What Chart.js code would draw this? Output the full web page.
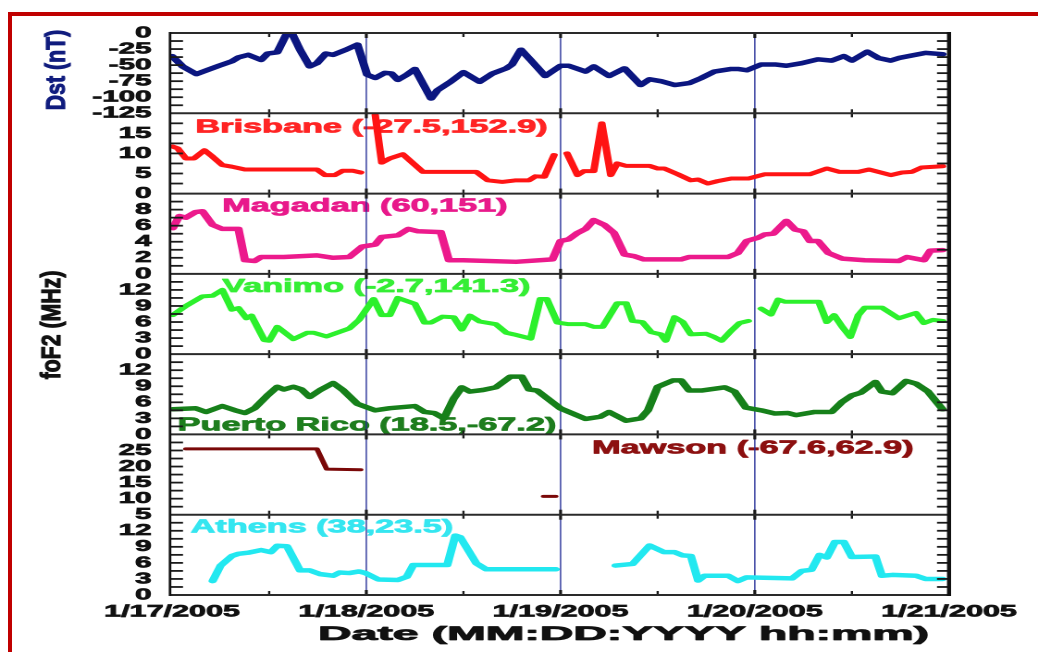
<!DOCTYPE html>
<html><head><meta charset="utf-8">
<script src="https://cdn.jsdelivr.net/npm/chart.js@4.4.1/dist/chart.umd.min.js"></script>
<style>
html,body{margin:0;padding:0;background:#fff;overflow:hidden;width:1038px;height:652px;}
#frame{position:absolute;left:8px;top:12px;width:2000px;height:2000px;border-top:4px solid #c00000;border-left:4px solid #c00000;}
#wrap{position:absolute;left:0;top:0;width:561px;height:652px;transform:scaleX(1.8503);transform-origin:0 0;}
</style></head><body>
<div id="frame"></div>
<div id="wrap"><canvas id="c"></canvas></div>
<script>
// ---- x axis (hours since 1/17/2005 00:00) ----
const tickHours = [0, 24, 48, 72, 96];
const tickLabels = ['1/17/2005', '1/18/2005', '1/19/2005', '1/20/2005', '1/21/2005'];

// ---- Dst (nT) ----
const dstHours = [0,1.3,3,4.5,5.8,7.4,8.2,9.4,11,11.8,13,14.2,14.8,15.8,17,17.9,19,19.9,21.5,22.9,24.1,25.1,26.3,27.1,27.9,29,30,32,32.8,34.4,36,38,39.6,41.3,42,43.1,44.3,46.1,48,49,51.1,52.1,54,55.9,57.9,59,60.4,62.1,63.9,65.4,67,69.1,69.9,71,72.8,74.5,75.9,77.8,79.8,81.5,83,84,85.9,87.3,88.8,89.8,91.4,93.1,95.2];
const dstValues = [-36,-52,-64,-57,-51,-44,-38,-34,-42,-32,-30,0,0,-26,-52,-47,-32,-34,-26,-18,-65,-70,-62,-63,-73,-65,-56,-102,-89,-76,-61,-76,-63,-55,-49,-26,-42,-67,-51,-51,-60,-52,-67,-55,-81,-72,-75,-81,-78,-70,-60,-56,-56,-58,-49,-49,-51,-47,-41,-43,-36,-43,-29,-39,-43,-39,-35,-31,-33];

// ---- foF2 (MHz) per station ----
const brisbaneHours = [0.1,0.7,1.7,2.7,4,5,6.2,7.4,9,17.9,18.9,20.1,21.1,22.3,23.3,24,25.1,25.9,26.9,28.5,29.8,31,32.4,37.6,39,40.8,42.5,44.1,44.9,46,47.2,48,48.8,50.1,50.9,52.1,53.1,54.2,55,56.1,59,60,60.8,62.5,64.1,65,66.2,67.4,69.1,71.2,73.2,75.7,78.8,80.9,82.5,84.8,86.1,88.8,90.2,91.4,92.6,95.2];
const brisbaneValues = [11.7,11.25,8.75,8.75,10.8,9.2,7.1,6.7,6,6,4.6,4.6,5.7,5.7,5.25,null,19.6,7.7,8.75,9.8,7.5,5.4,5.4,5.4,3.3,2.9,3.3,3.3,4.3,4.2,9.6,null,10,4.6,5.6,5.6,17.5,4.6,7.5,6.9,6.9,6.25,6.25,4.8,3.3,3.5,2.5,3.1,3.75,3.75,4.8,4.8,4.8,6.25,5.4,5.4,6,4.6,5.25,5.4,6.5,6.8];

const magadanHours = [0.1,0.9,1.7,2.9,3.75,5,6.2,8.2,9,10.2,11,13.8,17.9,19.9,21.9,23.5,25.1,25.9,27.9,29.2,30.4,33.2,34.2,36,42.5,47,48,49,50.1,51.1,52.1,53.4,54.6,55.9,57.1,58.3,62.9,63.9,68.7,69.9,71,72.4,73.2,74.3,75.9,77,78,78.8,79.8,81.1,82.8,85.6,89.8,90.8,92.9,93.7,95.2];
const magadanValues = [5.7,7.2,7,7.7,7.8,6.1,5.6,5.6,1.7,1.6,2.1,2.1,2.3,2.0,2.1,3.4,3.65,4.6,4.8,5.6,5.3,5.2,1.7,1.7,1.5,1.8,4.1,4.3,5.1,5.6,6.7,6.1,5.1,2.4,2.2,1.8,1.8,2.1,2.1,2.6,4.1,4.5,4.9,5,6.6,5.5,5.3,4.1,4.1,2.6,1.9,1.7,1.6,2.1,1.7,2.9,2.95];

const vanimoHours = [0.1,1.7,3.75,5,6.2,7.4,8.2,9.2,9.8,11.4,12,13,15,16.7,17.5,19.1,21.9,23.1,24.9,25.9,26.9,27.9,30,31.2,32,33.4,34.8,35.8,36.8,38,40,41.3,42.2,44.3,45.5,46.3,47.6,49,51.1,52.1,53.2,55,56.1,56.9,58.1,59.2,60.4,61,62.1,63.1,64.1,66,67,67.9,69.1,70.1,71.2,72,72.8,74,74.9,75.7,79.9,80.9,81.8,82.8,83.8,84.8,85.6,87.7,89.8,91.9,92.9,94,95.2];
const vanimoValues = [7.3,9,10.8,10.9,12,8.3,8.6,6.7,7.2,2.6,2.5,5.1,2.8,4,4,3.3,4.8,6.4,10.3,7.3,7.3,10.5,9.4,5.9,5.9,7,6.9,4.6,7.2,6.1,5.6,4,3.7,2.9,10.3,10.3,5.9,5.6,5.6,5.1,5.1,9.5,9.5,6.2,6,4.1,3.7,2.5,6.9,6,3.7,3.8,3.2,2.5,4.4,5.8,6.2,null,8.5,7.4,10.2,9.8,9.8,6,7.3,5.1,3.2,7.3,8.7,8.7,6.7,7.7,5.8,6.4,6.2];

const puertoRicoHours = [0.1,2.9,4.2,6.2,7.8,9,10.2,11.8,13,13.8,15,16,17,18.3,19.9,21.1,22.9,25.1,26.9,30,31.2,32.4,33.6,34.8,35.8,36.8,38.4,40,41.8,43.2,44.1,45.1,48,51.1,52.9,54,56.1,57.9,58.8,60,61.9,62.9,63.9,65.4,68.3,69.5,70.9,72.8,74.5,76.1,77.1,79.4,81.5,82.8,84,85.1,86.9,87.7,89,90.7,91.9,93.4,95.2];
const puertoRicoValues = [4.7,4.9,4.2,5.3,4.5,4,4.9,7.3,8.9,8.4,8.9,8.4,7,8.3,9.6,8.3,5.7,4.5,4.9,5.3,4.2,4,3,6.7,8.8,8,8.3,8.8,10.8,10.8,8.4,8.2,4.85,2.9,3.3,4.2,2.55,3,4.5,8.9,10.1,10.1,8.2,8.2,8.8,8,5,4.5,3.9,4,3.6,4.2,4.2,6.1,7.3,7.8,9.8,8,7.7,10,9.5,8,4.7];

const mawsonHours = [1.7,17.9,19.1,23.3,30,45.9,47.4];
const mawsonValues = [25.5,25.5,19.2,19,null,10.7,10.7];

const athensHours = [5,6,7.4,8.2,9.4,11,12.2,13,14.2,15.8,17,18.3,19.9,20.7,21.9,23.1,23.9,25.5,27.9,29,29.8,34,35,35.6,37.6,38.8,42.5,47.4,50,54.8,56.9,59,60.8,62.1,63.1,64.1,65,65.8,68.7,69.9,71,76.6,77.8,79,80,80.9,81.9,83,84,86.9,87.7,89,91.9,93.1,95.2];
const athensValues = [2.6,5.5,7.3,7.7,7.9,8.4,8,9.2,9.1,4.6,4.6,3.9,3.6,4.2,4.1,4.4,4.1,2.9,2.8,3.4,5.6,5.6,11.1,10.8,5.9,4.8,4.8,4.8,null,5.5,5.8,9.25,8,8,7.4,7.3,2.7,3.6,3.6,2.6,3.3,3.1,4.5,4.7,7.5,7,9.9,9.9,7.1,7.2,3.6,3.75,3.6,3,3];

// ---- panel labels ----
const stationNames = ['Brisbane (-27.5,152.9)','Magadan (60,151)','Vanimo (-2.7,141.3)','Puerto Rico (18.5,-67.2)','Mawson (-67.6,62.9)','Athens (38,23.5)'];

// ---- styling / layout (not data) ----
const FONT = "'Liberation Sans', Arial, Helvetica, sans-serif";
const panels = [
  {id:'yDst', min:-125, max:0,  step:25, showMax:true,  weight:7},
  {id:'yBri', min:0,    max:20, step:5,  showMax:false, weight:6},
  {id:'yMag', min:0,    max:10, step:2,  showMax:false, weight:5},
  {id:'yVan', min:0,    max:15, step:3,  showMax:false, weight:4},
  {id:'yPR',  min:0,    max:15, step:3,  showMax:false, weight:3},
  {id:'yMaw', min:5,    max:30, step:5,  showMax:false, weight:2},
  {id:'yAth', min:0,    max:15, step:3,  showMax:false, weight:1}
];
const labelPlaces = [
  {axis:'yBri', h:2.9,  v:16.5, color:'#ff2424'},
  {axis:'yMag', h:6.2,  v:8.4,  color:'#e8198b'},
  {axis:'yVan', h:6.2,  v:12.6, color:'#35ee35'},
  {axis:'yPR',  h:0.7,  v:1.7,  color:'#1e7d1e'},
  {axis:'yMaw', h:51.9, v:25.6, color:'#8c1010'},
  {axis:'yAth', h:2.3,  v:12.6, color:'#35e6f0'}
];

function series(hours, values){ return hours.map((h,i)=>({x:h, y:values[i]})); }
function ds(data, axis, color, width){
  return {data, yAxisID:axis, borderColor:color, backgroundColor:color, borderWidth:width,
    pointRadius:0, pointHoverRadius:0, tension:0, spanGaps:false, borderJoinStyle:'round', borderCapStyle:'round', fill:false};
}

function yScale(p){
  return {
    type:'linear', position:'left', stack:'panels', stackWeight:1, weight:p.weight,
    min:p.min, max:p.max, offset:false,
    grid:{display:false, drawTicks:false}, border:{display:false},
    ticks:{stepSize:p.step, autoSkip:false, padding:10, color:'#111',
      textStrokeColor:'#111', textStrokeWidth:0.7,
      font:{family:FONT, size:16, weight:'bold', lineHeight:1},
      callback:(v)=> (v===p.max && !p.showMax) ? '' : String(v)},
    afterFit:(s)=>{ s.width = 91.9; s.paddingTop = 0; s.paddingBottom = 0; }
  };
}

const scales = {
  x: {
    type:'linear', position:'bottom', min:-0.25, max:96,
    grid:{display:false, drawTicks:false}, border:{display:false},
    afterBuildTicks:(s)=>{ s.ticks = tickHours.map(v=>({value:v})); },
    ticks:{autoSkip:false, maxRotation:0, minRotation:0, padding:7, color:'#111',
      textStrokeColor:'#111', textStrokeWidth:0.7,
      font:{family:FONT, size:16.5, weight:'bold'},
      callback:(v)=>{ const i = tickHours.indexOf(v); return i>=0 ? tickLabels[i] : ''; }},
    afterFit:(s)=>{ s.height = 25; s.paddingLeft = 0; s.paddingRight = 0; }
  }
};
panels.forEach(p=>{ scales[p.id] = yScale(p); });

function line(ctx,x1,y1,x2,y2){ ctx.beginPath(); ctx.moveTo(x1,y1); ctx.lineTo(x2,y2); ctx.stroke(); }
function boldText(ctx, t, x, y, w){ ctx.lineWidth = w; ctx.lineJoin = 'round'; ctx.strokeText(t, x, y); ctx.fillText(t, x, y); }

const decor = {
  id:'decor',
  beforeDatasetsDraw(chart){
    const ctx = chart.ctx, xs = chart.scales.x, a = chart.chartArea;
    ctx.save();
    ctx.font = "bold 18.5px " + FONT;
    ctx.textBaseline = 'middle'; ctx.textAlign = 'left';
    labelPlaces.forEach((L,i)=>{
      ctx.fillStyle = L.color; ctx.strokeStyle = L.color;
      boldText(ctx, stationNames[i], xs.getPixelForValue(L.h), chart.scales[L.axis].getPixelForValue(L.v), 0.8);
    });
    ctx.strokeStyle = 'rgba(35,45,150,0.85)'; ctx.lineWidth = 0.8;
    [24,48,72].forEach(d=>{ const px = xs.getPixelForValue(d); line(ctx,px,a.top,px,a.bottom); });
    ctx.restore();
  },
  afterDatasetsDraw(chart){
    const ctx = chart.ctx, xs = chart.scales.x, a = chart.chartArea;
    ctx.save();
    ctx.strokeStyle = '#1a1a1a';
    ctx.lineWidth = 1.8;
    panels.forEach(p=>{
      const s = chart.scales[p.id];
      for (let k=1; k<(p.max-p.min)/(p.step/2); k++){
        const y = s.getPixelForValue(p.min + k*p.step/2);
        line(ctx, a.left, y, a.left+7, y);
        line(ctx, a.right-6.5, y, a.right, y);
      }
    });
    panels.forEach(p=>{
      const s = chart.scales[p.id];
      for (let h=12; h<96; h+=12){
        const px = xs.getPixelForValue(h);
        ctx.lineWidth = (h%24===0) ? 1.6 : 1.2;
        const len = (h%24===0) ? 5 : 4;
        line(ctx, px, s.top, px, s.top+len);
        line(ctx, px, s.bottom-len, px, s.bottom);
      }
    });
    ctx.strokeStyle = '#2a2a2a'; ctx.lineWidth = 2;
    panels.forEach(p=>{ const s = chart.scales[p.id]; line(ctx, a.left, s.top, a.right, s.top); });
    line(ctx, a.left, a.bottom, a.right, a.bottom);
    ctx.strokeStyle = '#111';
    ctx.lineWidth = 1.4; line(ctx, a.left, a.top-1, a.left, a.bottom+1);
    ctx.lineWidth = 2.2; line(ctx, a.right, a.top-1, a.right, a.bottom+1);
    ctx.restore();
  },
  afterDraw(chart){
    const ctx = chart.ctx;
    ctx.save();
    ctx.textAlign = 'center'; ctx.textBaseline = 'middle';
    ctx.font = "bold 15px " + FONT;
    ctx.fillStyle = '#101c7e'; ctx.strokeStyle = '#101c7e';
    ctx.save(); ctx.translate(31, 70); ctx.rotate(-Math.PI/2); ctx.scale(1.42,1); boldText(ctx, 'Dst (nT)', 0, 0, 0.6); ctx.restore();
    ctx.fillStyle = '#111'; ctx.strokeStyle = '#111';
    ctx.save(); ctx.translate(28.5, 325); ctx.rotate(-Math.PI/2); ctx.scale(1.42,1); boldText(ctx, 'foF2 (MHz)', 0, 0, 0.6); ctx.restore();
    ctx.font = "bold 19px " + FONT;
    ctx.save(); ctx.translate(337, 635); ctx.scale(1.32, 1); boldText(ctx, 'Date (MM:DD:YYYY hh:mm)', 0, 0, 0.8); ctx.restore();
    ctx.restore();
  }
};

new Chart(document.getElementById('c'), {
  type:'line',
  data:{ datasets:[
    ds(series(dstHours, dstValues), 'yDst', '#0b1680', 4.5),
    ds(series(brisbaneHours, brisbaneValues), 'yBri', '#ff1414', 4),
    ds(series(magadanHours, magadanValues), 'yMag', '#ec1a8c', 4.5),
    ds(series(vanimoHours, vanimoValues), 'yVan', '#2cf02c', 4),
    ds(series(puertoRicoHours, puertoRicoValues), 'yPR', '#16801a', 4.5),
    ds(series(mawsonHours, mawsonValues), 'yMaw', '#7a0808', 3),
    ds(series(athensHours, athensValues), 'yAth', '#22e8f0', 4.5)
  ]},
  options:{
    responsive:true, maintainAspectRatio:false, animation:false, devicePixelRatio:2,
    layout:{padding:{top:33, left:0, right:48.1, bottom:32}},
    plugins:{legend:{display:false}, tooltip:{enabled:false}},
    scales
  },
  plugins:[decor]
});
</script>
</body></html>
